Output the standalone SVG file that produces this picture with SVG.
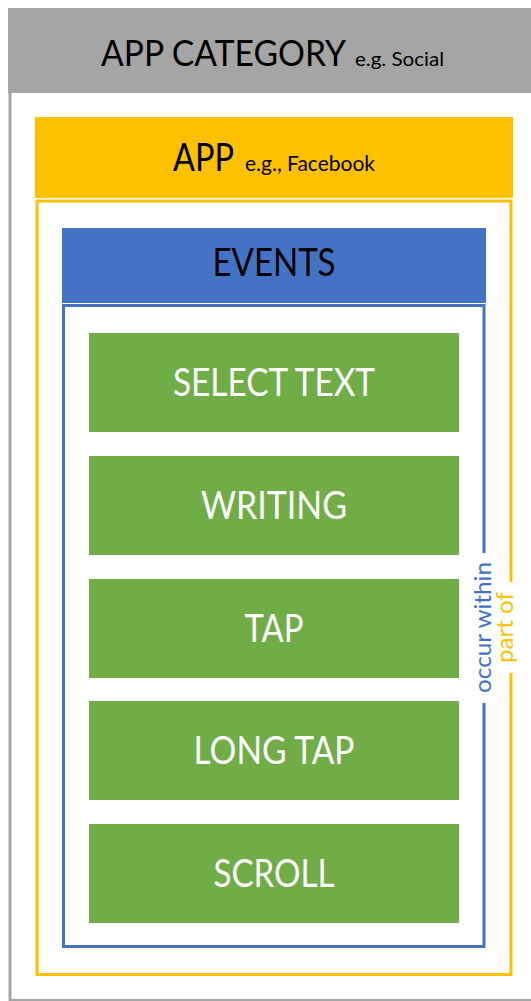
<svg xmlns="http://www.w3.org/2000/svg" width="531" height="1001" viewBox="0 0 531 1001">
<style>
.t{font-family:Lato,"Open Sans","Liberation Sans",sans-serif;}
.dark{fill:#000000;}
.white{fill:#ffffff;}
.ev{fill:#70AD47;}
.lbl{font-size:38px;text-anchor:middle;}
</style>
<rect x="0" y="0" width="531" height="1001" fill="#ffffff"/>
<g id="app-category">
  <path d="M10 93 V1000.5 H531" fill="none" stroke="#A5A5A5" stroke-width="3"/>
  <rect x="8" y="8" width="523" height="85" fill="#A5A5A5"/>
  <text class="t dark" x="101" y="66" font-size="36" textLength="245" lengthAdjust="spacingAndGlyphs">APP CATEGORY</text>
  <text class="t dark" x="355" y="66" font-size="20" textLength="89" lengthAdjust="spacingAndGlyphs">e.g. Social</text>
</g>
<g id="app">
  <rect x="35" y="117" width="478" height="81" fill="#FFC000"/>
  <text class="t dark" x="173" y="171" font-size="38" textLength="61" lengthAdjust="spacingAndGlyphs">APP</text>
  <text class="t dark" x="245" y="171" font-size="21" textLength="130" lengthAdjust="spacingAndGlyphs">e.g., Facebook</text>
</g>
<g id="events">
  <rect x="62" y="228" width="424" height="75" fill="#4472C4"/>
  <text class="t dark" x="274" y="276" font-size="38" text-anchor="middle" textLength="123" lengthAdjust="spacingAndGlyphs">EVENTS</text>
</g>
<g id="event-select-text">
  <rect class="ev" x="89" y="333" width="370" height="99"/>
  <text class="t white lbl" x="274" y="396" textLength="202" lengthAdjust="spacingAndGlyphs">SELECT TEXT</text>
</g>
<g id="event-writing">
  <rect class="ev" x="89" y="456" width="370" height="99"/>
  <text class="t white lbl" x="274" y="519" textLength="146" lengthAdjust="spacingAndGlyphs">WRITING</text>
</g>
<g id="event-tap">
  <rect class="ev" x="89" y="579" width="370" height="99"/>
  <text class="t white lbl" x="274" y="642" textLength="59" lengthAdjust="spacingAndGlyphs">TAP</text>
</g>
<g id="event-long-tap">
  <rect class="ev" x="89" y="701" width="370" height="99"/>
  <text class="t white lbl" x="274" y="764" textLength="161" lengthAdjust="spacingAndGlyphs">LONG TAP</text>
</g>
<g id="event-scroll">
  <rect class="ev" x="89" y="824" width="370" height="99"/>
  <text class="t white lbl" x="274" y="887" textLength="121" lengthAdjust="spacingAndGlyphs">SCROLL</text>
</g>
<g id="connectors">
  <path d="M511 582 V201 H37 V974.5 H511 V673" fill="none" stroke="#FFC000" stroke-width="3"/>
  <path d="M484 553 V305.5 H63.5 V946.5 H484 V703" fill="none" stroke="#4472C4" stroke-width="3"/>
  <text class="t" x="0" y="0" transform="translate(491,627.5) rotate(-90)" font-size="24" fill="#4472C4" text-anchor="middle" textLength="131" lengthAdjust="spacingAndGlyphs">occur within</text>
  <text class="t" x="0" y="0" transform="translate(513,627.5) rotate(-90)" font-size="23" fill="#FFC000" text-anchor="middle" textLength="71" lengthAdjust="spacingAndGlyphs">part of</text>
</g>
</svg>
